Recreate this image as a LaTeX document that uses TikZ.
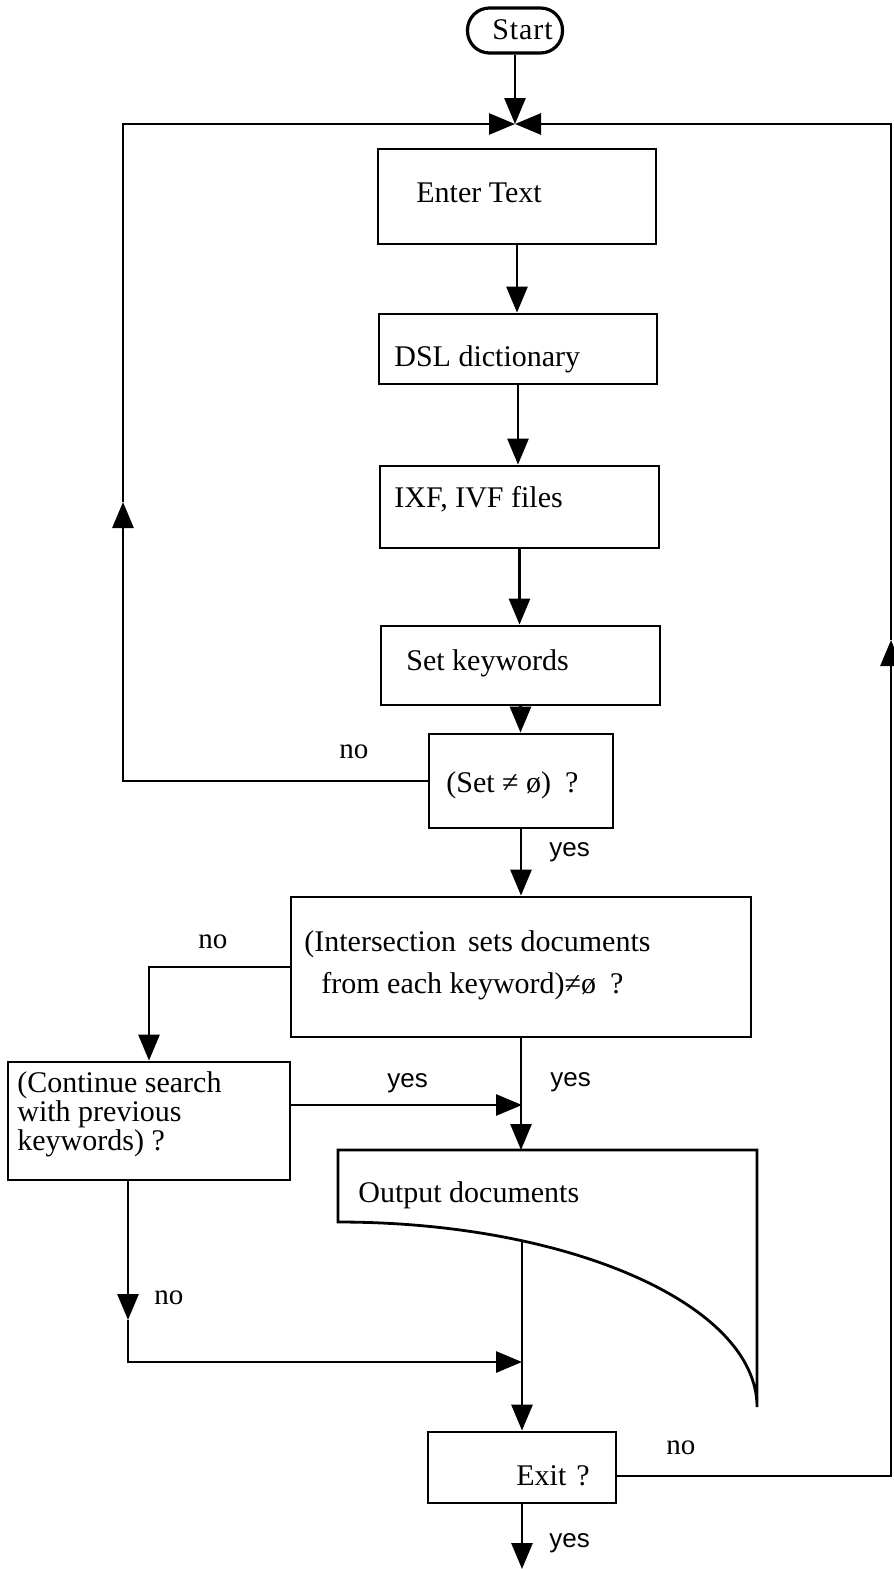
\documentclass[tikz,border=0pt]{standalone}
\usepackage{fontspec}
\setmainfont{Liberation Serif}
\newfontfamily\labelsans{Liberation Sans}
\usetikzlibrary{arrows.meta}

\begin{document}
\begin{tikzpicture}[x=0.5pt,y=-0.5pt,
  line width=1.4pt,
  box/.style={draw, line width=1.4pt, rectangle, inner sep=0pt},
  txt/.style={anchor=base west, inner sep=0pt, font=\fontsize{15}{17}\selectfont},
  yeslbl/.style={anchor=base west, inner sep=0pt, font=\labelsans\fontsize{13}{15}\selectfont},
  nolbl/.style={anchor=base west, inner sep=0pt, font=\fontsize{14.5}{16}\selectfont},
  flow/.style={-{Triangle[length=13pt,width=10.5pt]}},
]
\useasboundingbox (0,0) rectangle (894,1569);

% ---- boxes ----
\node[draw, line width=1.6pt, rounded corners=11pt, minimum width=47.5pt,
      minimum height=22.5pt, inner sep=0pt] (start) at (515,30.5) {};
\node[txt, font=\fontsize{15}{17}\selectfont\addfontfeature{LetterSpace=3}] (start-t) at (491,39) {Start};

\node[box, minimum width=139pt, minimum height=47.5pt] (enter) at (517,196.5) {};
\node[txt] (enter-t) at (415,202) {Enter Text};

\node[box, minimum width=139pt, minimum height=35pt] (dsl) at (518,349) {};
\node[txt] (dsl-t) at (393,366) {DSL dictionary};

\node[box, minimum width=139.5pt, minimum height=41pt] (ixf) at (519.5,507) {};
\node[txt] (ixf-t) at (393,507) {IXF, IVF files};

\node[box, minimum width=139.5pt, minimum height=39.5pt] (setkw) at (520.5,665.5) {};
\node[txt] (setkw-t) at (405,670) {Set keywords};

\node[box, minimum width=92pt, minimum height=47pt] (setne) at (521,781) {};
\node[txt] (setne-t) at (445,792) {(Set ≠ ø)\hspace{7pt}?};

\node[box, minimum width=230pt, minimum height=70pt] (inter) at (521,967) {};
\node[txt] (inter-t1) at (303,951) {(Intersection\hspace{6pt}sets documents};
\node[txt] (inter-t2) at (320,993) {from each keyword)≠ø\hspace{7pt}?};

\node[box, minimum width=141pt, minimum height=59pt] (cont) at (149,1121) {};
\node[txt] (cont-t1) at (16,1092) {(Continue search};
\node[txt] (cont-t2) at (16,1121) {with previous};
\node[txt] (cont-t3) at (16,1150) {keywords) ?};

% output document shape with its curved lower edge
\draw[line width=1.4pt] (338,1150) -- (757,1150) -- (757,1407)
  arc[start angle=0, end angle=90, x radius=209.5pt, y radius=92.5pt] -- cycle;
\node[txt] (out-t) at (357,1202) {Output documents};
\coordinate (outtop) at (522,1150);
\coordinate (outbot) at (522,1241);

\node[box, minimum width=94pt, minimum height=35.5pt] (exit) at (522,1467.5) {};
\node[txt] (exit-t) at (515,1485) {Exit\hspace{5pt}?};

% ---- connectors ----
\coordinate (J) at (515,124);
\draw[flow] (start.south) -- (J);
\draw[flow] (enter.south) -- (enter.south |- dsl.north);
\draw[flow] (dsl.south) -- (dsl.south |- ixf.north);
\draw[flow] (ixf.south) -- (ixf.south |- setkw.north);
\draw[flow] (setkw.south) -- (setkw.south |- setne.north);
\draw[flow] (setne.south) -- (setne.south |- inter.north);

% loop back from the empty-set test
\coordinate (Lup) at (123,502);
\draw[flow] (setne.west) -| (Lup);
\draw[flow] (Lup) |- (J);

% loop back from the exit test
\coordinate (Rup) at (891,640);
\draw[flow] ([yshift=-4.25pt]exit.east) -| (Rup);
\draw[flow] (Rup) |- (J);

% intersection branches
\draw[flow] (inter.west) -| (cont.north);
\draw[flow] (inter.south) -- (inter.south |- outtop);
\coordinate (M1) at (522,1105);
\draw[flow] (cont.east |- M1) -- (M1);

% continue-search "no" branch
\coordinate (Cdown) at (128,1320);
\coordinate (M2) at (522,1362);
\draw[flow] (cont.south -| Cdown) -- (Cdown);
\draw[flow] (Cdown) |- (M2);

\draw[flow] (outbot) -- (outbot |- exit.north);
\coordinate (Eend) at (522,1569);
\draw[flow] (exit.south) -- (Eend);

% ---- branch labels ----
\node[nolbl] (no1) at (338,758) {no};
\node[yeslbl] (yes1) at (548,856) {yes};
\node[nolbl] (no2) at (197,948) {no};
\node[yeslbl] (yes2) at (386,1087) {yes};
\node[yeslbl] (yes3) at (549,1086) {yes};
\node[nolbl] (no3) at (153,1304) {no};
\node[nolbl] (no4) at (665,1454) {no};
\node[yeslbl] (yes4) at (548,1547) {yes};
\end{tikzpicture}
\end{document}
